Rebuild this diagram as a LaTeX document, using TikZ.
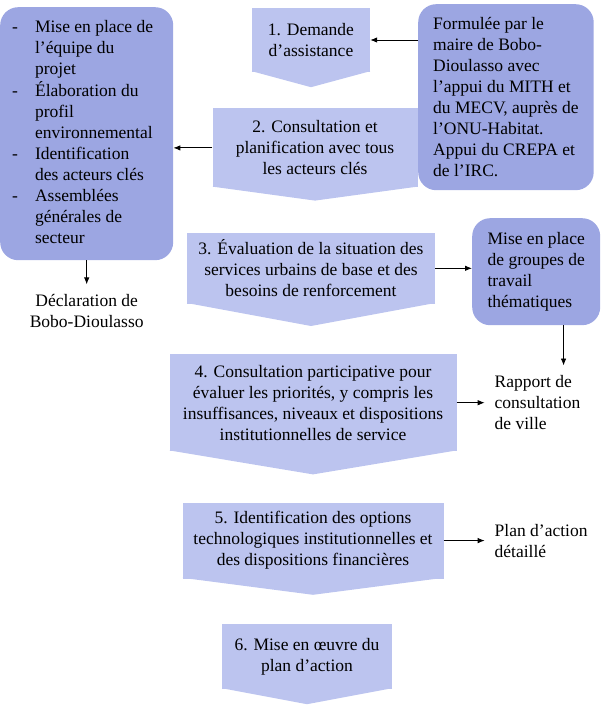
\documentclass[tikz,border=0pt]{standalone}
\usepackage{fontspec}
\setmainfont{Liberation Serif}
\usetikzlibrary{arrows.meta, positioning}

\definecolor{steplight}{RGB}{188,196,239}
\definecolor{notedark}{RGB}{156,166,226}

\begin{document}
\begin{tikzpicture}[
        x=1pt, y=1pt,
        node distance=45pt and 30pt,
        stepbox/.style={rectangle, fill=steplight, align=center,
                        font=\fontsize{17.5}{21}\selectfont, inner sep=2pt},
        notebox/.style={rectangle, rounded corners=18pt, fill=notedark, align=left,
                        font=\fontsize{17.5}{21}\selectfont, anchor=north west},
        plain/.style={align=left, font=\fontsize{17.5}{21}\selectfont,
                      inner sep=2pt, outer sep=8pt},
        arr/.style={-{Latex[length=7pt,width=5.5pt]}, line width=0.9pt},
    ]
        \useasboundingbox (0,0) rectangle (602,-720);

        % Main column
        \node[stepbox, minimum width=118pt, minimum height=64pt] (dem) at (311,-40)
              {1. Demande\\d'assistance};
        \node[stepbox, minimum width=205pt, minimum height=79pt,
              below=36pt of dem, xshift=4pt] (cons)
              {2. Consultation et\\planification avec tous\\les acteurs clés};
        \node[stepbox, minimum width=248pt, minimum height=71pt,
              below=of cons, xshift=-4pt] (eval)
              {3. Évaluation de la situation des\\services urbains de base et des\\besoins de renforcement};
        \node[stepbox, minimum width=287pt, minimum height=97pt,
              below=50pt of eval, xshift=2pt] (part)
              {4. Consultation participative pour\\évaluer les priorités, y compris les\\insuffisances, niveaux et dispositions\\institutionnelles de service};
        \node[stepbox, minimum width=261pt, minimum height=76pt,
              below=51pt of part] (opt)
              {5. Identification des options\\technologiques institutionnelles et\\des dispositions financières};
        \node[stepbox, minimum width=170pt, minimum height=65pt,
              below=of opt, xshift=-6pt] (oeuvre)
              {6. Mise en œuvre du\\plan d'action};

        % Pointed bottoms of the steps
        \foreach \n/\d in {dem/15, cons/13, eval/22, part/23, opt/16, oeuvre/15}
            \fill[steplight] ([yshift=1pt]\n.south west) -- ([yshift=1pt]\n.south east)
                             -- ([yshift=-\d pt]\n.south) -- cycle;

        % Side boxes
        \node[notebox, minimum width=173pt, minimum height=253pt, inner xsep=4pt] (actions) at (0,-7)
              {\begin{tabular}{@{}l@{\hspace{17pt}}l@{\hspace{8pt}}}
                 - & Mise en place de\\ & l'équipe du\\ & projet\\
                 - & Élaboration du\\ & profil\\ & environnemental\\
                 - & Identification\\ & des acteurs clés\\
                 - & Assemblées\\ & générales de\\ & secteur
               \end{tabular}};
        \node[notebox, minimum width=175pt, minimum height=186pt, inner xsep=15pt] (form) at (418,-4)
              {Formulée par le\\maire de Bobo-\\Dioulasso avec\\l'appui du MITH et\\du MECV, auprès de\\l'ONU-Habitat.\\Appui du CREPA et\\de l'IRC.};
        \node[notebox, minimum width=128pt, minimum height=107pt, inner xsep=13pt] (grp) at (472,-218)
              {Mise en place\\de groupes de\\travail\\thématiques};

        % Outputs
        \node[plain, align=center, below=24pt of actions] (decl) {Déclaration de\\Bobo-Dioulasso};
        \node[plain, right=28pt of part] (rap) {Rapport de\\consultation\\de ville};
        \node[plain, right=41pt of opt] (plan) {Plan d'action\\détaillé};

        % Arrows
        \draw[arr] (form.west |- dem.east) -- (dem.east);
        \draw[arr] (cons.west) -- (cons.west -| actions.east);
        \draw[arr] (actions.south) -- (decl.north);
        \draw[arr] (eval.east) -- (eval.east -| grp.west);
        \draw[arr] (grp.-63) -- (grp.-63 |- rap.north);
        \draw[arr] (part.east) -- (rap.west);
        \draw[arr] (opt.east) -- (plan.west);
    \end{tikzpicture}
\end{document}
